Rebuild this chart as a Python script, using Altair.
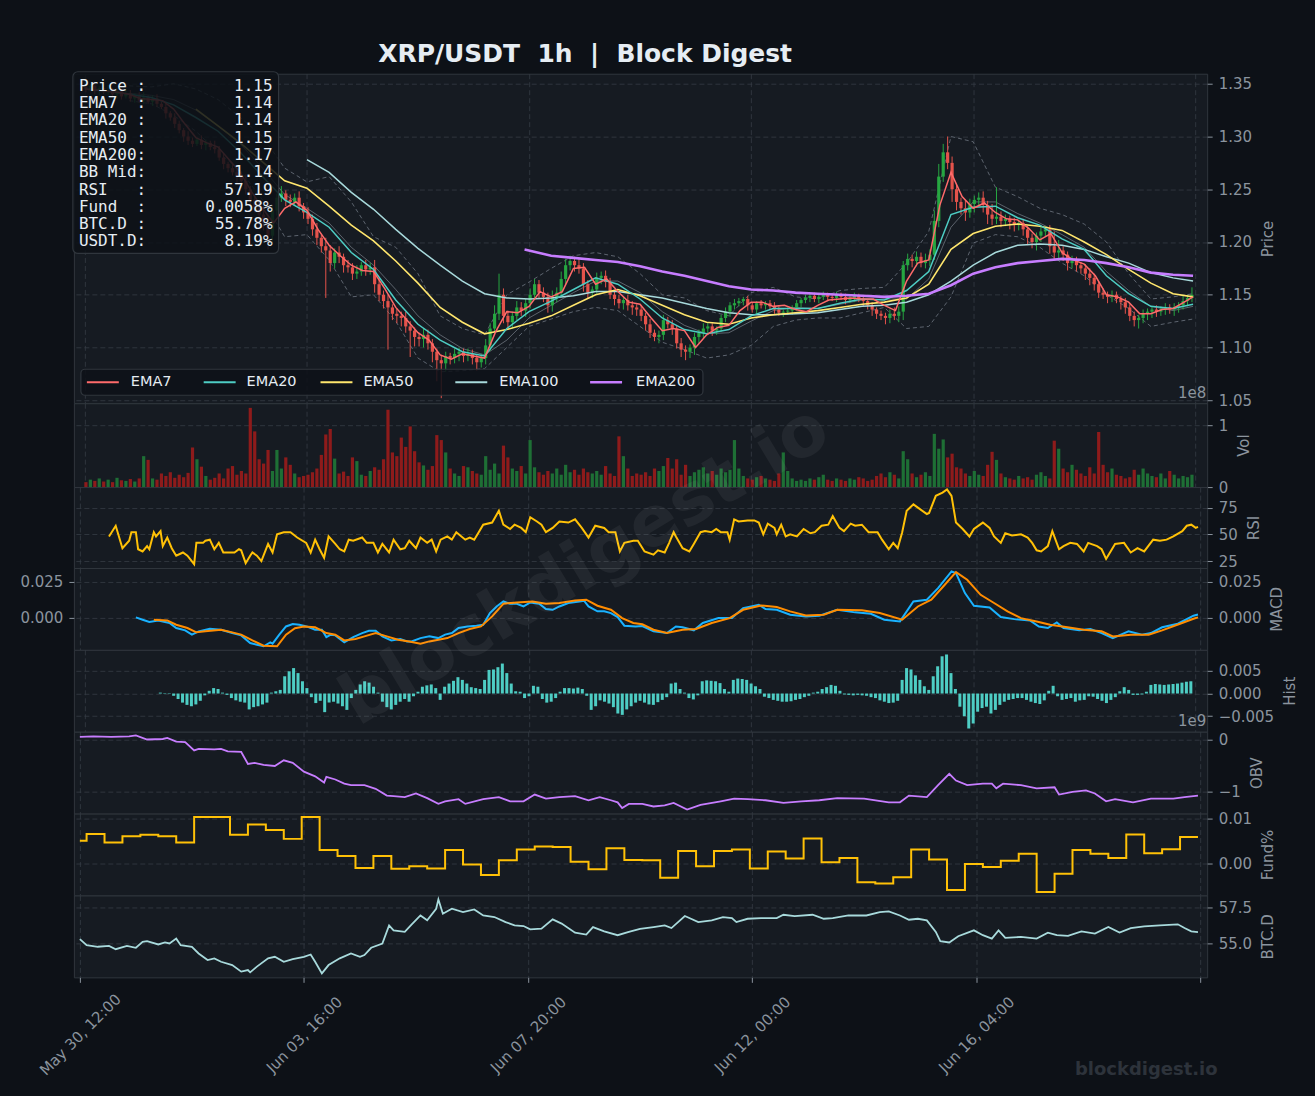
import altair as alt
import pandas as pd

# ---------------- text ----------------
TITLE = "XRP/USDT\u00a0\u00a01h\u00a0\u00a0|\u00a0\u00a0Block Digest"
X_TICK_HOURS = [0, 100, 200, 300, 400, 500]
X_TICK_LABELS = ["May 30, 12:00", "Jun 03, 16:00", "Jun 07, 20:00", "Jun 12, 00:00", "Jun 16, 04:00", ""]
INFO_LABELS = ["Price\u00a0:", "EMA7\u00a0\u00a0:", "EMA20\u00a0:", "EMA50\u00a0:", "EMA200:",
               "BB\u00a0Mid:", "RSI\u00a0\u00a0\u00a0:", "Fund\u00a0\u00a0:", "BTC.D\u00a0:", "USDT.D:"]
INFO_VALUES = ["1.15", "1.14", "1.14", "1.15", "1.17", "1.14", "57.19", "0.0058%", "55.78%", "8.19%"]
LEGEND_NAMES = ["EMA7", "EMA20", "EMA50", "EMA100", "EMA200"]
PRICE_TICKS = [1.05, 1.10, 1.15, 1.20, 1.25, 1.30, 1.35]

# ---------------- candles (2h bars, prices in 1/1000 USDT) ----------------
FIRST_OPEN = 1347
CLOSE = [1345,1348,1343,1346,1342, 1344,1340,1343,1338,1341, 1336,1339,1334,1337,1333,
         1336,1331,1328,1322,1318, 1312,1306,1300,1296,1293, 1297,1292,1294,1290,1288,
         1280,1274,1270,1266,1262, 1258,1250,1240,1232,1226, 1218,1206,1230,1242,1246,
         1240,1238,1242,1234,1228, 1222,1212,1204,1196,1192, 1180,1190,1186,1178,1176,
         1170,1172,1178,1174,1176, 1160,1150,1144,1138,1132, 1130,1128,1120,1116,1110,
         1108,1112,1104,1096,1088, 1085,1092,1090,1094,1096, 1092,1094,1090,1086,1090,
         1102,1118,1132,1150,1130, 1124,1130,1138,1135,1142, 1150,1160,1152,1148,1140,
         1148,1152,1165,1178,1182, 1178,1175,1160,1152,1155, 1166,1168,1162,1150,1146,
         1142,1145,1140,1138,1136, 1130,1122,1114,1110,1112, 1126,1122,1118,1104,1098,
         1096,1100,1110,1114,1118, 1120,1116,1118,1128,1134, 1140,1142,1144,1146,1140,
         1136,1142,1140,1142,1139, 1136,1133,1134,1135,1138, 1142,1145,1147,1149,1146,
         1148,1150,1148,1147,1150, 1148,1145,1147,1149,1146, 1144,1140,1136,1132,1130,
         1128,1132,1130,1134,1178, 1184,1182,1186,1180,1183, 1188,1220,1262,1285,1275,
         1250,1238,1232,1228,1236, 1240,1242,1235,1226,1222, 1224,1220,1222,1219,1216,
         1218,1212,1204,1200,1206, 1210,1212,1196,1190,1192, 1188,1180,1182,1178,1175,
         1170,1166,1160,1152,1150, 1148,1150,1146,1143,1138, 1130,1126,1128,1132,1134,
         1136,1134,1136,1138,1136, 1138,1140,1144,1147,1150]
UPWICK = [3,2,4,2,3,5,2,3,2,4, 3,2,3,5,2,3,4,2,3,2, 4,3,2,5,3,2,4,3,2,6, 3,4,2,5,3,4,6,3,5,4,
          8,6,5,4,7,3,5,4,6,3, 5,4,6,3,8,5,4,6,3,5, 4,6,3,5,4,7,5,4,6,3, 5,4,6,5,3,4,6,5,4,3,
          5,4,3,5,4,3,5,4,3,4, 6,5,8,20,6,5,4,6,5,4, 6,5,4,5,4,6,5,7,6,5, 4,6,5,4,3,5,4,5,4,3,
          4,3,5,4,3,4,3,5,3,4, 5,3,4,3,5,4,3,4,3,5, 4,3,2,3,4,3,4,3,2,3, 3,2,3,2,3,4,3,2,3,2,
          3,2,3,2,3,2,3,2,3,3, 2,3,2,3,2,3,2,3,2,3, 3,4,6,5,4,5,4,5,4,6, 5,10,12,8,15,6,5,4,8,5,
          4,5,6,4,10,28,5,4,3,4, 3,4,3,4,3,4,3,4,14,10, 4,3,5,4,3,4,5,4,3,4, 3,4,3,3,4,3,4,3,4,3,
          3,4,3,4,3,4,3,5,3,7]
DNWICK = [3,2,3,4,2,3,2,4,3,2, 3,4,2,3,2,4,3,2,5,3, 4,3,5,4,3,2,4,5,3,4, 3,5,4,3,6,4,5,6,4,5,
          7,13,6,5,4,6,5,4,5,6, 5,6,7,6,45,8,5,6,7,5, 6,5,4,6,5,8,6,7,40,6, 7,8,6,25,9,7,8,6,10,20,
          33,8,6,5,7,6,5,6,8,5, 6,5,4,6,7,5,6,4,5,6, 5,4,6,5,7,6,5,4,6,5, 6,5,7,6,5,4,6,5,4,6,
          5,6,5,7,6,5,6,5,4,6, 5,4,6,5,7,8,6,7,6,5, 4,5,4,3,4,5,4,3,4,5, 3,4,3,4,3,4,3,4,3,4,
          3,4,3,4,3,4,3,4,3,4, 3,4,3,4,3,5,4,6,5,4, 6,5,4,6,8,5,6,5,4,5, 6,5,6,5,6,12,8,6,8,5,
          8,6,7,9,6,5,6,5,7,6, 5,6,7,6,8,6,5,7,6,8, 6,7,5,6,5,6,7,6,5,4, 6,5,4,7,6,5,6,8,5,6,
          6,5,4,5,4,6,5,4,5,4]
VOLUME = [8,12,10,14,9,12,8,15,11,10, 13,9,14,50,44,14,12,22,18,24, 15,20,16,23,64,45,33,18,12,15,
          22,14,30,34,20,26,22,128,90,45, 38,60,26,60,30,48,36,22,16,18, 20,24,30,52,85,94,46,22,25,18,
          48,42,20,18,26,32,28,45,125,56, 50,80,65,98,58,40,35,28,34,84, 76,56,30,22,18,34,32,26,22,20,
          50,28,38,22,67,48,30,26,34,22, 76,32,24,20,26,22,30,20,36,24, 28,20,30,24,22,26,20,34,22,18,
          82,50,30,18,22,20,24,18,30,26, 34,47,30,45,20,36,18,24,28,32, 22,26,20,30,24,28,76,30,18,14,
          12,16,18,14,12,10,22,56,26,14, 10,12,10,14,12,16,20,12,10,14, 12,10,14,12,16,14,10,12,18,22,
          16,24,20,14,58,45,22,16,20,24, 18,86,62,77,48,54,32,30,22,18, 26,20,18,36,57,44,22,16,14,12,
          18,14,16,12,20,24,18,14,75,62, 30,24,36,28,22,18,32,22,89,36, 24,30,20,18,14,16,28,20,30,22,
          18,16,22,14,26,20,14,18,16,20]

# ---------------- overlays (1/1000 USDT) ----------------
EMA7 = [1345,1344,1343,1342,1340,1336,1335,1334,1326,1312, 1299,1294,1290,1278,1266,1248,1232,1218,1232,1238,
        1230,1212,1197,1187,1178,1173,1172,1156,1138,1126, 1114,1107,1093,1089,1094,1092,1090,1115,1134,1133,
        1139,1153,1148,1153,1175,1176,1160,1165,1153,1143, 1141,1128,1116,1118,1116,1100,1112,1119,1121,1135,
        1143,1143,1139,1140,1136,1134,1140,1145,1146,1147, 1146,1146,1140,1135,1163,1180,1183,1235,1266,1243,
        1232,1237,1228,1222,1221,1213,1202,1208,1190,1183, 1179,1168,1150,1148,1143,1132,1132,1136,1137,1143, 1148]
EMA20 = [1345,1343,1340,1337,1330,1318,1305,1285,1262,1240, 1228,1214,1190,1174,1145,1122,1107,1096,1092,1118,
         1134,1144,1155,1166,1160,1146,1128,1117,1113,1117, 1130,1137,1137,1137,1142,1146,1145,1154,1172,1226,
         1233,1234,1223,1216,1203,1193,1168,1151,1139,1137, 1141]
EMA50 = [1326,1310,1294,1276,1258,1251,1234,1216,1201,1182, 1161,1138,1124,1113,1117,1123,1130,1140,1150,1155,
         1149,1140,1131,1124,1122,1128,1131,1133,1135,1138, 1141,1143,1147,1160,1193,1208,1215,1217,1215,1211,
         1200,1188,1174,1161,1151,1148]
EMA100 = [1278,1266,1247,1231,1212,1194,1178,1163,1151,1147, 1146,1147,1149,1153,1153,1150,1147,1142,1137,1133,
          1131,1131,1132,1133,1136,1139,1140,1143,1150,1163, 1178,1190,1197,1198,1197,1193,1186,1180,1171,1166, 1163]
EMA200 = [1193, 1187,1185,1183,1181,1177,1172,1168,1163,1158, 1155,1154,1152,1151,1150,1149,1148,1149,1151,1159,
          1170,1176,1180,1182,1184,1183,1180,1176,1171,1169, 1168]
BB_MID = [1341,1339,1335,1325,1310,1293,1270,1245,1232,1218, 1195,1178,1155,1130,1112,1099,1093,1107,1128,1140,
          1152,1163,1163,1152,1134,1121,1113,1114,1125,1135, 1138,1137,1141,1145,1146,1146,1165,1214,1238,1238,
          1227,1218,1207,1195,1172,1154,1139,1135, 1139]
BB_UP = [1348,1347,1350,1345,1335,1318,1300,1270,1257,1262, 1238,1205,1195,1170,1130,1118,1112,1150,1162,1175,
         1187,1190,1186,1170,1150,1147,1135,1130,1152,1157, 1148,1146,1154,1156,1157,1180,1210,1300,1295,1252,
         1243,1232,1226,1217,1200,1170,1146,1148, 1151]
BB_LO = [1334,1331,1320,1305,1285,1268,1240,1205,1207,1183, 1148,1150,1125,1090,1077,1078,1080,1100,1120,1127,
         1134,1138,1135,1120,1105,1098,1090,1093,1102,1120, 1126,1128,1128,1133,1138,1118,1120,1148,1199,1207,
         1205,1195,1180,1168,1150,1137,1120,1124, 1127]

# ---------------- indicators ----------------
RSI_H = [13,16,19,22,23,25,26,28,30,31, 33,34,36,37,39,41,43,46,48,51, 52,55,56,58,60,62,64,67,69,71,
         72,74,76,77,79,81,84,86,88,91, 94,97,101,103,105,107,109,111,114,116, 118,120,122,126,128,131,133,135,138,140,
         143,145,147,150,152,155,157,159,161,164, 166,168,172,174,176,178,180,184,187,189,
         192,194,197,199,201,204,206,208,211,214, 218,221,224,227,230,234,236,239,241,243,
         247,249,252,256,258,261,263,265,266,269, 272,274,277,279,282,284,286,289,290,292,
         294,298,301,303,305,307,310,311,313,315, 317,320,323,326,328,331,334,336,339,341,
         344,346,349,352,356,358,361,363,365,367, 369,372,374,378,379,382,385,387,389,391,
         394,397,399,403,406,408,411,413,416,420, 423,425,427,429,432,434,437,439,442,445,
         448,450,454,456,458,460,462,466,469,472, 475,479,482,485,488,492,494,496,498,499]
RSI_V = [48,58,37,44,52,52,36,34,39,36, 52,48,53,39,47,37,30,33,30,22, 42,42,44,45,36,42,33,33,33,36,
         35,23,30,33,30,25,41,33,50,52, 52,47,42,33,45,36,28,48,41,36, 34,45,44,47,42,42,33,41,33,45,
         36,37,44,37,47,42,45,34,45,48, 45,52,45,47,45,52,59,61,72,59, 55,59,56,52,66,62,59,52,56,62,
         61,64,56,47,58,56,52,52,34,42, 44,44,34,31,35,33,42,52,48,37, 34,41,52,53,52,55,52,52,45,64,
         62,63,63,61,50,60,56,50,59,48, 50,48,55,51,52,58,59,67,56,53, 60,58,59,52,52,45,36,42,37,52,
         72,78,75,69,70,86,89,92,86,61, 55,48,55,61,56,48,42,51,49,50, 47,42,35,34,39,53,36,39,42,41,
         34,42,39,36,27,34,41,42,33,37, 34,45,44,45,48,53,58,59,56,57]

MACD_H = [25,28,31,35,40,43,47,50,53,58, 63,68,72,76,79,82,85,86,89,92, 95,98,102,105,108,110,112,114,118,122,
          126,129,132,135,139,143,146,148,152,156, 160,163,166,169,173,177,180,183,186,189,
          192,195,198,201,205,208,211,214,218,223, 225,227,231,234,237,240,243,248,251,256,
          262,266,269,274,278,285,291,296,303,306, 311,317,324,330,338,346,353,359,366,372,
          378,383,389,391,395,399,406,411,417,424, 428,432,436,439,446,451,456,461,468,474, 478,483,490,497,499]
MACD_V = [0,-16,-32,-21,-39,-74,-90,-120,-97,-79, -86,-109,-125,-178,-190,-201,-174,-183,-120,-63,
          -46,-51,-67,-86,-86,-137,-120,-125,-174,-137, -109,-93,-93,-132,-160,-150,-167,-167,-144,-132,
          -144,-120,-109,-74,-63,-58,-51,30,76,111, 95,95,76,104,95,58,53,76,100,111,
          116,76,42,42,30,2,-58,-63,-60,-97, -109,-63,-69,-90,-39,-5,-5,65,88,58,
          53,19,7,12,53,35,25,-16,-28,111, 123,204,320,308,169,81,69,2,-12,-21,
          -63,-74,-35,-74,-90,-81,-109,-144,-97,-120, -109,-69,-44,12,20]
SIG_H = [33,39,43,48,52,56,63,68,72,77, 82,88,92,96,100,105,110,114,118,123, 127,132,137,142,147,152,156,160,164,169,
         174,179,184,189,195,202,208,214,221,226, 231,237,242,247,251,256,262,269,275,282,
         290,296,304,311,317,324,332,338,349,357, 367,374,380,386,391,396,402,408,414,420,
         427,433,440,448,456,461,469,477,483,491, 497,499]
SIG_V = [-16,-21,-51,-74,-104,-97,-86,-104,-120,-160, -197,-201,-120,-75,-63,-69,-109,-120,-160,-150,
         -132,-109,-132,-155,-167,-183,-167,-155,-144,-109, -81,-63,7,95,104,111,95,100,118,123,
         81,53,-5,-39,-48,-86,-109,-86,-81,-39, -5,53,83,72,42,14,19,53,49,30,
         -16,76,123,227,315,262,157,100,42,-5, -28,-51,-67,-86,-97,-132,-120,-120,-90,-44, -9,0]
HIST = [2,-1,1,-5,-12,-20,-25,-28,-24,-16, -4,6,12,10,2,-3,-10,-15,-18,-20, -35,-30,-28,-24,-20,2,5,8,38,49,
        56,45,27,12,-8,-21,-16,-41,-20,-18, -22,-28,-36,-10,8,20,27,24,15,2, -18,-30,-35,-25,-18,-12,-18,-6,4,15,
        18,20,12,-14,15,22,28,36,30,22, 14,12,10,30,52,53,58,66,45,22, 5,4,-10,-6,17,15,-12,-20,-18,-10,
        4,12,12,11,13,10,-5,-36,-28,-15, -18,-22,-30,-44,-47,-35,-28,-20,-16,-20, -24,-25,-19,-14,-8,22,24,10,2,-10,
        -13,-4,27,29,28,27,23,10,4,30, 33,32,30,22,16,10,-7,-10,-14,-16, -18,-18,-17,-14,-12,-8,-5,2,4,10,
        14,19,17,6,-2,-3,-4,-3,-4,-5, -8,-10,-15,-18,-21,-20,-16,30,56,53, 40,30,16,8,38,60,82,86,45,10,
        -29,-50,-77,-66,-40,-32,-29,-44,-36,-25, -18,-14,-12,-10,-10,-14,-18,-21,-23,-15, 6,17,-6,-14,-12,-10,-18,-15,-14,-6,
        -7,-12,-16,-21,-14,-8,5,14,8,-3, -3,-2,4,19,21,20,19,20,21,22, 24,26,27]

OBV_H = [0,6,14,22,25,30,37,39,43,47, 51,53,60,63,66,72,75,78,82,87, 91,95,100,105,109,110,114,118,121,127,
         132,137,140,145,150,155,160,163,169,172, 180,187,192,198,203,208,214,221,227,232,
         237,240,242,245,251,256,261,265,271,277, 286,292,298,306,314,322,330,338,350,361,
         366,370,378,383,388,391,396,403,407,409, 412,420,427,435,437,443,449,453,458,462, 470,478,488,493,497,499]
OBV_V = [5,6,5,6,8,0,1,3,-4,-5, -21,-18,-19,-18,-23,-24,-47,-45,-49,-51, -40,-45,-62,-71,-83,-72,-77,-85,-88,-88,
         -95,-108,-109,-111,-104,-113,-124,-119,-115,-124, -115,-111,-119,-119,-106,-114,-111,-109,-117,-111,
         -117,-121,-132,-124,-124,-129,-127,-122,-135,-126, -119,-114,-115,-117,-122,-119,-117,-113,-114,-121,
         -121,-108,-111,-88,-66,-79,-88,-85,-85,-94, -85,-88,-94,-92,-106,-101,-98,-104,-119,-115, -121,-114,-114,-111,-109,-108]

FUND = [50,65,46,60,63,60,46,103,103,63, 86,74,54,103,29,16,-11,16,-13,-7, -12,29,-3,-27,6,30,37,36,3,-14,
        33,7,6,-33,27,-7,27,30,-12,26, 10,55,2,11,-43,-46,-32,30,8,-60, -2,-9,5,21,-65,-24,29,21,11,64,
        22,31,58]

BTC_H = [0,3,8,13,16,21,25,28,30,35, 38,40,43,45,50,53,57,60,63,68, 72,75,76,79,84,87,91,95,100,103,
         105,108,111,116,121,125,127,130,135,138, 140,145,148,152,155,159,160,162,166,171,
         176,180,185,190,194,198,201,206,211,215, 221,226,229,234,240,245,250,256,261,264,
         270,276,282,287,291,293,298,304,311,314, 319,327,332,336,343,351,357,361,366,370,
         374,378,382,384,388,392,399,403,407,410, 413,420,427,432,436,441,447,453,459,464, 469,475,482,490,493,496,499]
BTC_V = [5528,5486,5475,5481,5458,5481,5468,5509,5514,5491, 5505,5498,5532,5486,5475,5428,5382,5394,5370,5347,
         5301,5312,5296,5336,5394,5405,5370,5389,5405,5421, 5370,5289,5347,5394,5428,5405,5417,5468,5498,5625,
         5590,5579,5630,5694,5660,5741,5806,5706,5741,5718, 5736,5694,5683,5648,5625,5620,5597,5602,5667,5637,
         5574,5560,5613,5583,5556,5579,5600,5613,5625,5606, 5690,5648,5660,5683,5676,5648,5671,5676,5676,5699,
         5690,5699,5671,5676,5694,5694,5718,5722,5694,5664, 5671,5660,5579,5514,5505,5549,5590,5556,5532,5590,
         5537,5544,5532,5574,5556,5551,5583,5567,5613,5574, 5606,5618,5625,5632,5606,5583,5578]

# ---------------- style ----------------
BG = "#0d1117"
PANEL = "#161b22"
FRAME = "#30363d"
GRIDC = "#363c45"
TXT = "#8b949e"
WHITE = "#e6edf3"
C_UP, C_DN = "#26a641", "#e5534b"
V_UP, V_DN = "#1e6f35", "#8e1b1b"
C_EMA = {"EMA7": "#ff6b6b", "EMA20": "#4ecdc4", "EMA50": "#ffe66d", "EMA100": "#a8dadc", "EMA200": "#c77dff"}
W = 1135
H_PRICE, H_VOL, H_RSI, H_SUB = 330, 84, 81, 82
XDOM = [-2.67, 503.1]
ONE = pd.DataFrame({"k": [0]})

# ---------------- frames ----------------
n = min(len(CLOSE), len(UPWICK), len(DNWICK), len(VOLUME))
opens = [FIRST_OPEN] + CLOSE[:n - 1]
rows = []
for i in range(n):
    o, c = opens[i], CLOSE[i]
    rows.append(dict(c=2 * i + 0.5, o=o / 1000, cl=c / 1000,
                     hi=(max(o, c) + UPWICK[i]) / 1000, lo=(min(o, c) - DNWICK[i]) / 1000,
                     up=c >= o, vol=VOLUME[i] * 1e6))
cdf = pd.DataFrame(rows)
cup = cdf[cdf["up"]]
cdn = cdf[~cdf["up"]]


def series(hours, vals, scale):
    m = min(len(hours), len(vals))
    return pd.DataFrame({"h": list(hours[:m]), "v": [v * scale for v in vals[:m]]})


ema_df = {
    "EMA7": series(list(range(0, 500, 5)) + [499], EMA7, 1e-3),
    "EMA20": series(list(range(0, 500, 10)) + [499], EMA20, 1e-3),
    "EMA50": series(list(range(50, 500, 10)) + [499], EMA50, 1e-3),
    "EMA100": series(list(range(100, 500, 10)) + [499], EMA100, 1e-3),
    "EMA200": series([198] + list(range(210, 500, 10)) + [499], EMA200, 1e-3),
}
BB_H = list(range(20, 500, 10)) + [499]
bb_up = series(BB_H, BB_UP, 1e-3)
bb_mid = series(BB_H, BB_MID, 1e-3)
bb_lo = series(BB_H, BB_LO, 1e-3)
rsi_df = series(RSI_H, RSI_V, 1)
macd_df = series(MACD_H, MACD_V, 1e-4)
sig_df = series(SIG_H, SIG_V, 1e-4)
hist_df = series(list(range(34, 499, 2)), HIST, 1e-4)
obv_df = series(OBV_H, OBV_V, 1e7)
FUND_H = [0] + list(range(3, 492, 8))
fund_df = series(FUND_H + [499], FUND + [FUND[-1]], 1e-4)
btc_df = series(BTC_H, BTC_V, 1e-2)

# ---------------- helpers ----------------
LABEL_EXPR = "[" + ",".join("'%s'" % s for s in X_TICK_LABELS) + "][round(datum.value/100)]"


def X(field="h", bottom=False):
    if bottom:
        ax = alt.Axis(values=X_TICK_HOURS, labelExpr=LABEL_EXPR, labelAngle=315, labelAlign="center",
                      labelBaseline="middle", labelPadding=52, grid=True, title=None, domain=False,
                      ticks=True, tickSize=5)
    else:
        ax = alt.Axis(values=X_TICK_HOURS, labels=False, ticks=False, domain=False, grid=True, title=None)
    return alt.X(f"{field}:Q", scale=alt.Scale(domain=XDOM, nice=False, zero=False), axis=ax)


def yaxis(title, values, fmt=None, expr=None):
    kw = dict(orient="right", values=values, title=title, grid=True, domain=False,
              titleAngle=270, titleBaseline="top", titlePadding=9, labelPadding=6, tickSize=5)
    if fmt:
        kw["format"] = fmt
    if expr:
        kw["labelExpr"] = expr
    return alt.Axis(**kw)


def txt(text, x, y, **kw):
    return alt.Chart(ONE).mark_text(text=text, **kw).encode(x=alt.value(x), y=alt.value(y))


def line(df, yenc, color, width=1.6, bottom=False, **kw):
    return alt.Chart(df).mark_line(color=color, strokeWidth=width, **kw).encode(x=X("h", bottom), y=yenc)


# ---------------- price panel ----------------
YP = alt.Scale(domain=[1.0472, 1.3595], nice=False, zero=False)
PAX = yaxis("Price", PRICE_TICKS, fmt=".2f")


def yP(f):
    return alt.Y(f"{f}:Q", scale=YP, axis=PAX)


price_layers = [
    alt.Chart(ONE).mark_rect(fill=BG, opacity=0).encode(
        x=alt.value(-73), x2=alt.value(1242), y=alt.value(-72), y2=alt.value(1024)),
    line(bb_up, yP("v"), "#6e7681", 1, strokeDash=[4, 3], opacity=0.8),
    line(bb_lo, yP("v"), "#6e7681", 1, strokeDash=[4, 3], opacity=0.8),
    line(bb_mid, yP("v"), "#8b949e", 1, opacity=0.6),
    alt.Chart(cup).mark_rule(color=C_UP, strokeWidth=1).encode(x=X("c"), y=yP("lo"), y2="hi"),
    alt.Chart(cdn).mark_rule(color=C_DN, strokeWidth=1).encode(x=X("c"), y=yP("lo"), y2="hi"),
    alt.Chart(cup).mark_bar(color=C_UP, size=3.2).encode(x=X("c"), y=yP("o"), y2="cl"),
    alt.Chart(cdn).mark_bar(color=C_DN, size=3.2).encode(x=X("c"), y=yP("o"), y2="cl"),
    line(ema_df["EMA100"], yP("v"), C_EMA["EMA100"], 1.5),
    line(ema_df["EMA50"], yP("v"), C_EMA["EMA50"], 1.6),
    line(ema_df["EMA20"], yP("v"), C_EMA["EMA20"], 1.5),
    line(ema_df["EMA7"], yP("v"), C_EMA["EMA7"], 1.5),
    line(ema_df["EMA200"], yP("v"), C_EMA["EMA200"], 2.6),
]
# legend
price_layers.append(alt.Chart(ONE).mark_rect(fill=BG, fillOpacity=0.85, stroke=FRAME, strokeWidth=1.2,
                                             cornerRadius=4).encode(
    x=alt.value(7), x2=alt.value(630), y=alt.value(296), y2=alt.value(322)))
LEG_LINE_X = [13, 130, 247, 382, 517]
LEG_TEXT_X = [57, 173, 290, 426, 563]
for name, lx, tx in zip(LEGEND_NAMES, LEG_LINE_X, LEG_TEXT_X):
    price_layers.append(alt.Chart(ONE).mark_rule(color=C_EMA[name],
                                                 strokeWidth=2.6 if name == "EMA200" else 2).encode(
        x=alt.value(lx), x2=alt.value(lx + 32), y=alt.value(309)))
    price_layers.append(txt(name, tx, 309, align="left", baseline="middle", font="DejaVu Sans",
                            fontSize=14.5, color=WHITE))
# info box
price_layers.append(alt.Chart(ONE).mark_rect(fill=BG, fillOpacity=0.86, stroke=FRAME, strokeWidth=1.2,
                                             cornerRadius=5).encode(
    x=alt.value(-1), x2=alt.value(205), y=alt.value(-2), y2=alt.value(180)))
for k, (lab, val) in enumerate(zip(INFO_LABELS, INFO_VALUES)):
    yy = 12 + 17.33 * k
    price_layers.append(txt(lab, 5, yy, align="left", baseline="middle", font="DejaVu Sans Mono",
                            fontSize=16, color=WHITE))
    price_layers.append(txt(val, 199, yy, align="right", baseline="middle", font="DejaVu Sans Mono",
                            fontSize=16, color=WHITE))
price_layers.append(txt(TITLE, 512, -20, align="center", baseline="middle", font="DejaVu Sans",
                        fontSize=25, fontWeight="bold", color=WHITE))
p_price = alt.layer(*price_layers).properties(width=W, height=H_PRICE)

# ---------------- volume ----------------
YV = alt.Scale(domain=[0, 1.355e8], nice=False, zero=False)
VAX = yaxis("Vol", [0, 1e8], expr="format(datum.value/1e8, 'd')")
p_vol = alt.layer(
    alt.Chart(cup).mark_bar(color=V_UP, size=3.2).encode(
        x=X("c"), y=alt.Y("vol:Q", scale=YV, axis=VAX), y2=alt.datum(0)),
    alt.Chart(cdn).mark_bar(color=V_DN, size=3.2).encode(
        x=X("c"), y=alt.Y("vol:Q", scale=YV, axis=VAX), y2=alt.datum(0)),
    txt("1e8", 1134, -10, align="right", baseline="middle", font="DejaVu Sans", fontSize=15, color=TXT),
).properties(width=W, height=H_VOL)

# ---------------- RSI ----------------
YR = alt.Scale(domain=[18.5, 94.2], nice=False, zero=False)
p_rsi = line(rsi_df, alt.Y("v:Q", scale=YR, axis=yaxis("RSI", [25, 50, 75], fmt="d")),
             "#ffc107", 2).properties(width=W, height=H_RSI)

# ---------------- MACD ----------------
YM = alt.Scale(domain=[-0.02257, 0.03438], nice=False, zero=False)
MAX_R = yaxis("MACD", [0, 0.025], fmt=".3f")
MAX_L = alt.Axis(orient="left", values=[0, 0.025], format=".3f", title=None, grid=False, domain=False,
                 tickSize=5, labelPadding=6)
macd_right = alt.layer(
    line(macd_df, alt.Y("v:Q", scale=YM, axis=MAX_R), "#1ab2ff", 2),
    line(sig_df, alt.Y("v:Q", scale=YM, axis=MAX_R), "#ff8c00", 2),
)
macd_left = alt.Chart(macd_df).mark_line(opacity=0).encode(x=X("h"), y=alt.Y("v:Q", scale=YM, axis=MAX_L))
p_macd = alt.layer(macd_right, macd_left).resolve_axis(y="independent").properties(width=W, height=H_SUB)

# ---------------- Hist ----------------
YH = alt.Scale(domain=[-0.00841, 0.00962], nice=False, zero=False)
p_hist = alt.Chart(hist_df).mark_bar(color="#4ecdc4", size=3).encode(
    x=X("h"), y=alt.Y("v:Q", scale=YH, axis=yaxis("Hist", [-0.005, 0, 0.005], fmt=".3f")),
    y2=alt.datum(0)).properties(width=W, height=H_SUB)

# ---------------- OBV ----------------
YO = alt.Scale(domain=[-1.427e9, 0.15e9], nice=False, zero=False)
p_obv = alt.layer(
    line(obv_df, alt.Y("v:Q", scale=YO, axis=yaxis("OBV", [-1e9, 0], expr="format(datum.value/1e9, 'd')")),
         "#c77dff", 1.8),
    txt("1e9", 1134, -11, align="right", baseline="middle", font="DejaVu Sans", fontSize=15, color=TXT),
).properties(width=W, height=H_SUB)

# ---------------- Funding ----------------
YF = alt.Scale(domain=[-0.00725, 0.01105], nice=False, zero=False)
p_fund = line(fund_df, alt.Y("v:Q", scale=YF, axis=yaxis("Fund%", [0, 0.01], fmt=".2f")),
              "#ffc107", 2, interpolate="step-after").properties(width=W, height=H_SUB)

# ---------------- BTC dominance ----------------
YB = alt.Scale(domain=[52.61, 58.34], nice=False, zero=False)
p_btc = alt.layer(
    line(btc_df, alt.Y("v:Q", scale=YB, axis=yaxis("BTC.D", [55, 57.5], fmt=".1f")), "#a8dadc", 1.8,
         bottom=True),
    txt("blockdigest.io", 512, -330, align="center", baseline="middle", angle=329, font="DejaVu Sans",
        fontSize=70, fontWeight="bold", color="#ffffff", opacity=0.05),
    txt("blockdigest.io", 1074, 175, align="center", baseline="middle", font="DejaVu Sans",
        fontSize=18, fontWeight="bold", color="#2d333b"),
).properties(width=W, height=H_SUB)

chart = alt.vconcat(p_price, p_vol, p_rsi, p_macd, p_hist, p_obv, p_fund, p_btc,
                    spacing=0, bounds="flush").properties(padding=0)
chart = chart.configure(background=BG).configure_view(
    fill=PANEL, stroke=FRAME, strokeWidth=1
).configure_axis(
    labelFont="DejaVu Sans", labelFontSize=15, labelColor=TXT,
    titleFont="DejaVu Sans", titleFontSize=15, titleColor=TXT, titleFontWeight="normal",
    gridColor=GRIDC, gridDash=[5, 3], gridWidth=0.8, tickColor=TXT, tickWidth=1,
)

chart.save("out.html", embed_options={"renderer": "svg", "actions": False})
